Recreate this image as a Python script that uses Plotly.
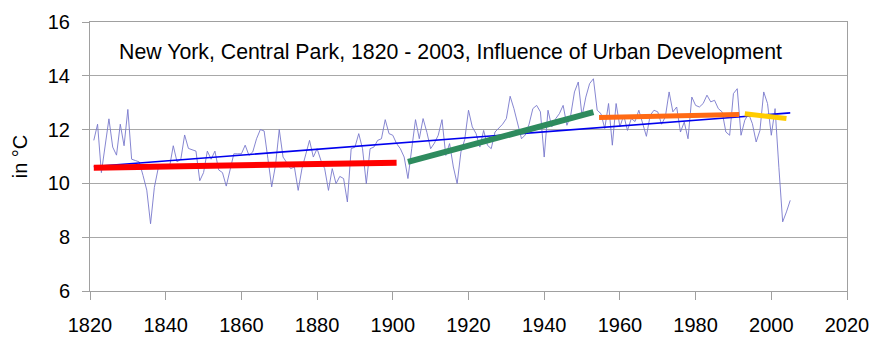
import plotly.graph_objects as go

# ---- data ----
years = list(range(1821, 2006))
temps = [
    11.6, 12.2, 10.4, 11.4, 12.4, 11.35, 11.05, 12.2, 11.4, 12.75,
    10.9, 10.85, 10.8, 10.3, 9.75, 8.5, 9.85, 10.55, 10.6, 10.6,
    10.6, 11.4, 10.8, 10.9, 11.8, 11.3, 11.25, 11.2, 10.1, 10.4,
    11.2, 10.9, 11.2, 10.5, 10.4, 9.9, 10.5, 11.1, 11.1, 11.1,
    11.42, 11.04, 11.17, 11.66, 12.0, 11.95, 10.92, 9.87, 10.67, 12.0,
    10.98, 10.75, 10.55, 10.61, 9.74, 10.55, 11.1, 11.6, 10.98, 11.29,
    10.86, 10.55, 9.74, 10.55, 9.99, 10.26, 10.18, 9.31, 11.29, 11.35,
    11.85, 11.29, 9.99, 11.29, 11.35, 11.6, 11.66, 12.37, 11.85, 11.79,
    11.48, 11.29, 10.98, 10.18, 11.29, 12.37, 11.66, 12.41, 11.9, 11.29,
    11.5, 11.79, 12.37, 11.04, 11.48, 10.61, 9.99, 11.17, 11.63, 12.72,
    12.1, 11.85, 11.35, 11.97, 11.42, 11.29, 11.91, 12.04, 12.2, 12.41,
    13.24, 12.78, 12.22, 11.66, 11.8, 12.2, 12.78, 12.9, 12.66, 10.98,
    12.72, 12.1, 12.4, 12.59, 12.9, 12.16, 12.53, 13.4, 13.77, 12.5,
    13.21, 13.71, 13.89, 12.72, 12.59, 12.04, 12.97, 11.42, 12.97, 12.1,
    12.53, 11.97, 12.41, 12.3, 12.72, 12.28, 11.75, 12.53, 12.72, 12.66,
    12.2, 12.47, 13.4, 12.66, 12.84, 11.91, 12.28, 11.66, 13.21, 12.9,
    12.84, 12.97, 13.28, 13.03, 13.09, 12.78, 12.66, 11.91, 11.79, 13.34,
    13.52, 11.79, 12.35, 12.59, 12.22, 11.54, 11.97, 13.4, 12.97, 11.79,
    12.78, 10.6, 8.57, 8.94, 9.37,
]
assert len(years) == len(temps)

trend_all_x = [1821, 2005]
trend_all_y = [10.63, 12.62]
trend_red_x = [1821, 1901]
trend_red_y = [10.58, 10.77]
trend_green_x = [1904, 1953]
trend_green_y = [10.80, 12.65]
trend_orange_x = [1954.5, 1991.5]
trend_orange_y = [12.45, 12.56]
trend_yellow_x = [1993, 2004]
trend_yellow_y = [12.59, 12.41]

x_ticks = [1820, 1840, 1860, 1880, 1900, 1920, 1940, 1960, 1980, 2000, 2020]
y_ticks = [6, 8, 10, 12, 14, 16]
title_text = "New York, Central Park, 1820 - 2003, Influence of Urban Development"

FONT = "Liberation Sans, Arial, sans-serif"

fig = go.Figure()
fig.add_trace(go.Scatter(x=years, y=temps, mode="lines",
                         line=dict(color="#7878CC", width=0.9), hoverinfo="skip"))
fig.add_trace(go.Scatter(x=trend_all_x, y=trend_all_y, mode="lines",
                         line=dict(color="#0000EE", width=1.6)))
fig.add_trace(go.Scatter(x=trend_red_x, y=trend_red_y, mode="lines",
                         line=dict(color="#FF0000", width=6)))
fig.add_trace(go.Scatter(x=trend_green_x, y=trend_green_y, mode="lines",
                         line=dict(color="#2E8B5E", width=6)))
fig.add_trace(go.Scatter(x=trend_orange_x, y=trend_orange_y, mode="lines",
                         line=dict(color="#FF6A14", width=5)))
fig.add_trace(go.Scatter(x=trend_yellow_x, y=trend_yellow_y, mode="lines",
                         line=dict(color="#FFCC00", width=5)))

fig.add_annotation(text=title_text, xref="paper", yref="y",
                   x=0.036, y=14.87, xanchor="left", yanchor="middle",
                   showarrow=False, font=dict(family=FONT, size=21.3, color="black"))

fig.update_layout(
    width=889, height=354,
    margin=dict(l=90, r=42, t=22, b=63),
    paper_bgcolor="white", plot_bgcolor="white",
    showlegend=False,
    font=dict(family=FONT, size=20, color="black"),
)
fig.update_xaxes(range=[1820, 2020], tickvals=x_ticks, ticktext=[str(v) for v in x_ticks],
                 showgrid=False, zeroline=False,
                 showline=True, linecolor="#A0A0A0", linewidth=1, mirror=True,
                 ticks="outside", ticklen=8, tickcolor="#A0A0A0",
                 tickfont=dict(family=FONT, size=20), ticklabelstandoff=8)
fig.update_yaxes(range=[6, 16], tickvals=y_ticks, ticktext=[str(v) for v in y_ticks],
                 showgrid=True, gridcolor="#A8A8A8", gridwidth=1, zeroline=False,
                 showline=True, linecolor="#A0A0A0", linewidth=1, mirror=True,
                 ticks="outside", ticklen=7, tickcolor="#A0A0A0",
                 tickfont=dict(family=FONT, size=20), ticklabelstandoff=8,
                 title=dict(text="in °C", font=dict(family=FONT, size=20), standoff=14))

fig.write_html("out.html")
